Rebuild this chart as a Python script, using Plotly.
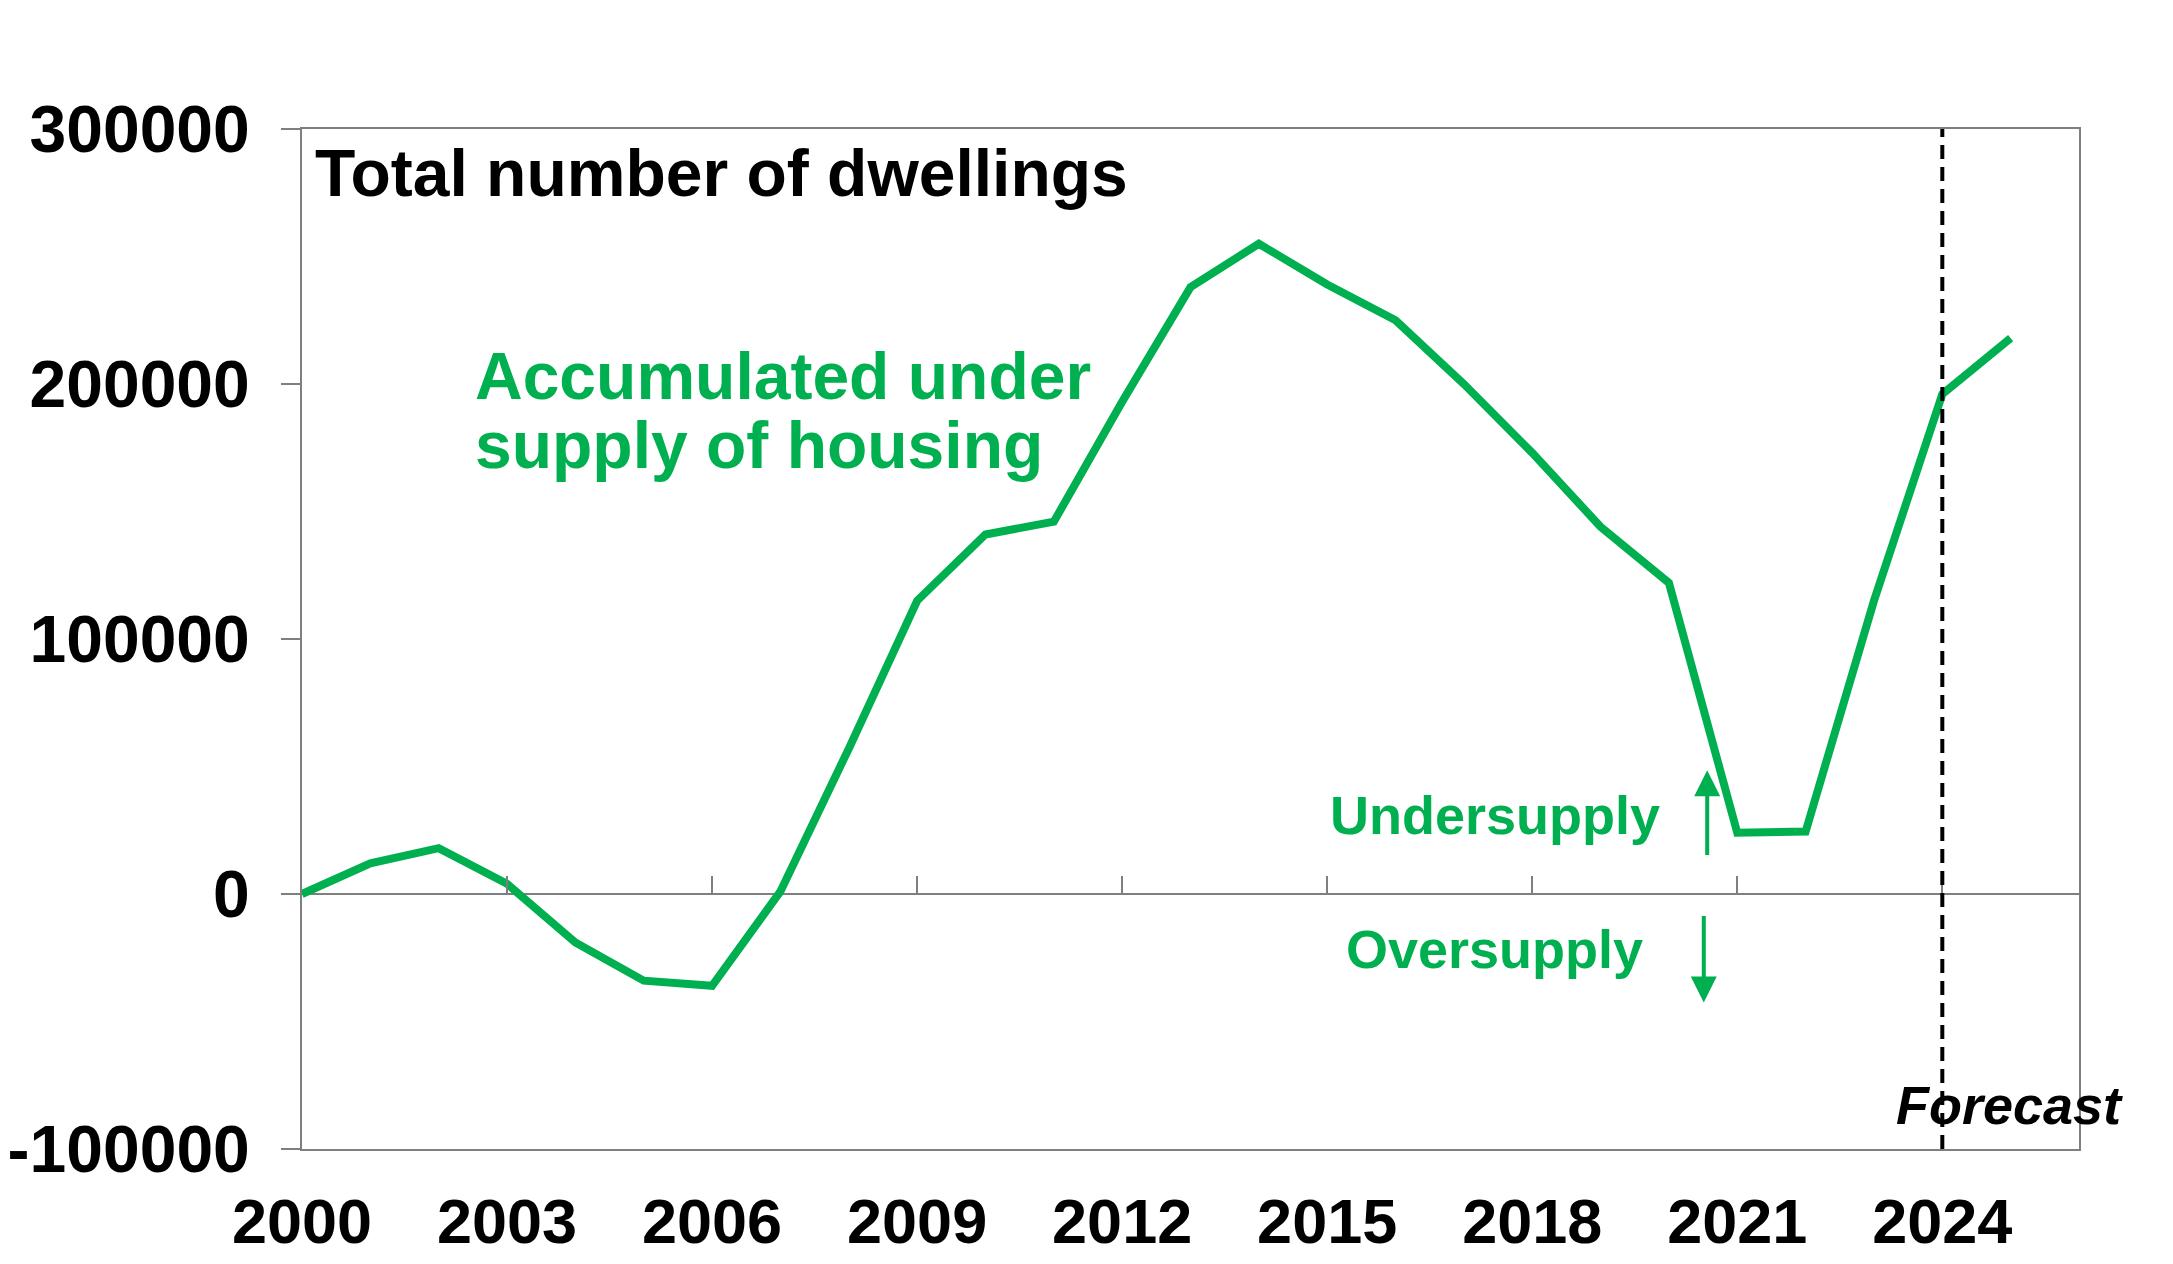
import plotly.graph_objects as go

years = list(range(2000, 2026))
undersupply = [0, 12000, 18000, 4000, -19000, -34000, -36000, 1000, 57000, 115000,
               141000, 146000, 193000, 238000, 255000, 239000, 225000, 200000, 173000,
               144000, 122000, 24000, 24500, 115000, 196000, 218000]

x_tick_vals = [2000, 2003, 2006, 2009, 2012, 2015, 2018, 2021, 2024]
x_tick_text = [str(v) for v in x_tick_vals]
y_tick_vals = [-100000, 0, 100000, 200000, 300000]
y_tick_text = ["-100000", "0", "100000", "200000", "300000"]
zero_tick_vals = [2003, 2006, 2009, 2012, 2015, 2018, 2021, 2024]
forecast_start = 2024

GREEN = "#00B050"
GREY = "#7F7F7F"
FONT = "Liberation Sans, Arial, sans-serif"

fig = go.Figure()
fig.add_trace(go.Scatter(x=years, y=undersupply, mode="lines",
                         line=dict(color=GREEN, width=8), showlegend=False,
                         hoverinfo="x+y"))
# carrier trace for the zero-line tick axis
fig.add_trace(go.Scatter(x=years, y=undersupply, mode="lines", xaxis="x2",
                         line=dict(width=0), showlegend=False, hoverinfo="skip"))

fig.update_layout(
    width=2157, height=1248,
    margin=dict(l=294, r=86, t=121, b=107),
    paper_bgcolor="white", plot_bgcolor="white",
    font=dict(family=FONT, color="black"),
    xaxis=dict(range=[2000, 2026], tickvals=x_tick_vals, ticktext=x_tick_text,
               showgrid=False, zeroline=False, showline=True, linecolor=GREY,
               linewidth=2, mirror=True, ticks="", ticklabelstandoff=16,
               automargin=False,
               tickfont=dict(size=63, family=FONT, weight="bold", color="black")),
    xaxis2=dict(range=[2000, 2026], overlaying="x", anchor="free", position=0.25,
                side="bottom", tickvals=zero_tick_vals, ticks="inside", ticklen=18,
                tickwidth=2, tickcolor=GREY, showticklabels=False, showgrid=False,
                zeroline=False, showline=False, automargin=False),
    yaxis=dict(range=[-100000, 300000], tickvals=y_tick_vals, ticktext=y_tick_text,
               showgrid=False, zeroline=True, zerolinecolor=GREY, zerolinewidth=2,
               showline=True, linecolor=GREY, linewidth=2, mirror=True,
               ticks="outside", ticklen=19, tickwidth=2, tickcolor=GREY,
               ticklabelstandoff=18, automargin=False,
               tickfont=dict(size=66, family=FONT, weight="bold", color="black")),
)

fig.add_shape(type="line", x0=forecast_start, x1=forecast_start, xref="x",
              y0=0, y1=1, yref="paper",
              line=dict(color="black", width=4, dash="14px,8px"))

fig.add_annotation(text="Total number of dwellings", xref="paper", yref="paper",
                   x=0.006, y=0.957, xanchor="left", yanchor="middle", showarrow=False,
                   font=dict(size=66, family=FONT, weight="bold", color="black"))
fig.add_annotation(text="Accumulated under", xref="paper", yref="y",
                   x=0.096, y=203000, xanchor="left", yanchor="middle", showarrow=False,
                   font=dict(size=66, family=FONT, weight="bold", color=GREEN))
fig.add_annotation(text="supply of housing", xref="paper", yref="y",
                   x=0.096, y=176000, xanchor="left", yanchor="middle", showarrow=False,
                   font=dict(size=66, family=FONT, weight="bold", color=GREEN))
fig.add_annotation(text="Undersupply", xref="x", yref="y", x=2017.45, y=31000,
                   xanchor="center", yanchor="middle", showarrow=False,
                   font=dict(size=54, family=FONT, weight="bold", color=GREEN))
fig.add_annotation(text="Oversupply", xref="x", yref="y", x=2017.45, y=-21700,
                   xanchor="center", yanchor="middle", showarrow=False,
                   font=dict(size=54, family=FONT, weight="bold", color=GREEN))
fig.add_annotation(text="", xref="x", yref="y", x=2020.56, y=48500,
                   axref="x", ayref="y", ax=2020.56, ay=14700, showarrow=True,
                   arrowhead=2, arrowsize=1.3, arrowwidth=4, arrowcolor=GREEN,
                   standoff=0, startstandoff=0)
fig.add_annotation(text="", xref="x", yref="y", x=2020.51, y=-42500,
                   axref="x", ayref="y", ax=2020.51, ay=-8000, showarrow=True,
                   arrowhead=2, arrowsize=1.3, arrowwidth=4, arrowcolor=GREEN,
                   standoff=0, startstandoff=0)
fig.add_annotation(text="<i>Forecast</i>", xref="x", yref="y", x=2024.99, y=-82600,
                   xanchor="center", yanchor="middle", showarrow=False,
                   font=dict(size=54, family=FONT, weight="bold", color="black"))

fig.write_html("out.html")
